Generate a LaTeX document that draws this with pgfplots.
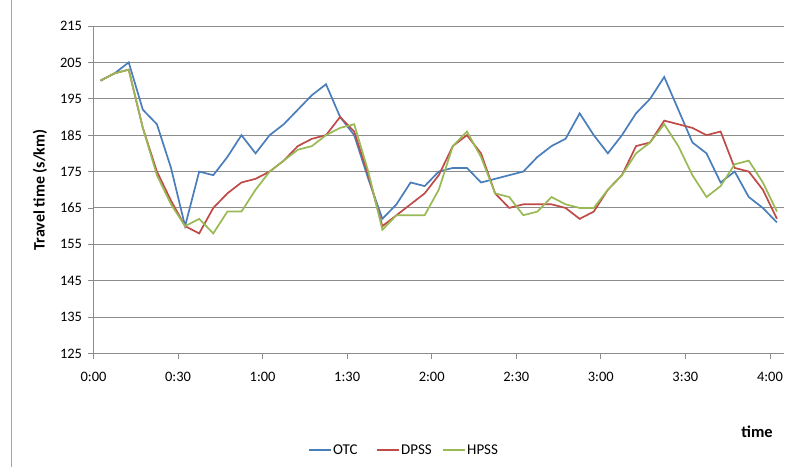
\documentclass[border=0pt]{standalone}
\usepackage{fontspec}
\setmainfont{Carlito}
\usepackage{pgfplots}
\usepackage{pgfplotstable}
\pgfplotsset{compat=1.18}
\definecolor{otc}{HTML}{4A7EBB}
\definecolor{dpss}{HTML}{BE4B48}
\definecolor{hpss}{HTML}{98B954}
\definecolor{gridc}{HTML}{8C8C8C}

% travel time every 5 min (points centred in each 5-min slot)
\pgfplotstableread{
t     otc  dpss hpss
2.5   200  200  200
7.5   202  202  202
12.5  205  203  203
17.5  192  187  187
22.5  188  175  174
27.5  176  167  166
32.5  160  160  160
37.5  175  158  162
42.5  174  165  158
47.5  179  169  164
52.5  185  172  164
57.5  180  173  170
62.5  185  175  175
67.5  188  178  178
72.5  192  182  181
77.5  196  184  182
82.5  199  185  185
87.5  190  190  187
92.5  185  186  188
97.5  173  174  175
102.5 162  160  159
107.5 166  163  163
112.5 172  166  163
117.5 171  169  163
122.5 175  174  170
127.5 176  182  182
132.5 176  185  186
137.5 172  180  179
142.5 173  169  169
147.5 174  165  168
152.5 175  166  163
157.5 179  166  164
162.5 182  166  168
167.5 184  165  166
172.5 191  162  165
177.5 185  164  165
182.5 180  170  170
187.5 185  174  174
192.5 191  182  180
197.5 195  183  183
202.5 201  189  188
207.5 192  188  182
212.5 183  187  174
217.5 180  185  168
222.5 172  186  171
227.5 175  176  177
232.5 168  175  178
237.5 165  170  172
242.5 161  162  164
}\traveldata

\begin{document}
\begin{tikzpicture}
\path[use as bounding box] (-93.5bp,-113.5bp) rectangle (693.5bp,353.5bp);
\draw[gridc!80, line width=0.8bp] (-81.8bp,-113.5bp) -- (-81.8bp,353.5bp);
\begin{axis}[
    at={(0,0)}, anchor=south west,
    scale only axis, width=690.5bp, height=327.5bp,
    xmin=0, xmax=245, ymin=125, ymax=215,
    xtick={0,30,...,240},
    xticklabels={0:00,0:30,1:00,1:30,2:00,2:30,3:00,3:30,4:00},
    ytick={125,135,...,215},
    axis x line*=bottom, axis y line*=left,
    axis line style={gridc, line width=0.8bp},
    tick style={gridc, line width=0.8bp},
    tick align=outside, major tick length=5bp,
    ymajorgrids=true,
    grid style={gridc, line width=0.9bp},
    /pgf/number format/assume math mode=true,
    tick label style={font=\fontsize{14.5}{17}\selectfont, text=black},
    xticklabel style={yshift=-10bp},
    yticklabel style={xshift=-3bp},
    ylabel={\textbf{Travel time (s/km)}},
    ylabel style={at={(axis description cs:-0.0775,0.5)}, anchor=center,
        font=\fontsize{16}{19}\selectfont},
    clip=false,
]
\addplot[color=otc, line width=1.7bp] table[x=t, y=otc] {\traveldata};
\addplot[color=dpss, line width=1.7bp] table[x=t, y=dpss] {\traveldata};
\addplot[color=hpss, line width=1.7bp] table[x=t, y=hpss] {\traveldata};
\node[font=\bfseries\fontsize{16.5}{19}\selectfont] at (axis description cs:0.961,-0.24) {time};
\end{axis}
% legend
\begin{scope}[every node/.style={anchor=west, inner sep=1bp, font=\fontsize{15}{18}\selectfont}]
\draw[otc, line width=1.7bp] (215.5bp,-96.5bp) -- (237.5bp,-96.5bp);
\node at (238.5bp,-96.5bp) {OTC};
\draw[dpss, line width=1.7bp] (283.5bp,-96.5bp) -- (305.5bp,-96.5bp);
\node at (306.5bp,-96.5bp) {DPSS};
\draw[hpss, line width=1.7bp] (349.5bp,-96.5bp) -- (371.5bp,-96.5bp);
\node at (372.5bp,-96.5bp) {HPSS};
\end{scope}
\end{tikzpicture}
\end{document}
